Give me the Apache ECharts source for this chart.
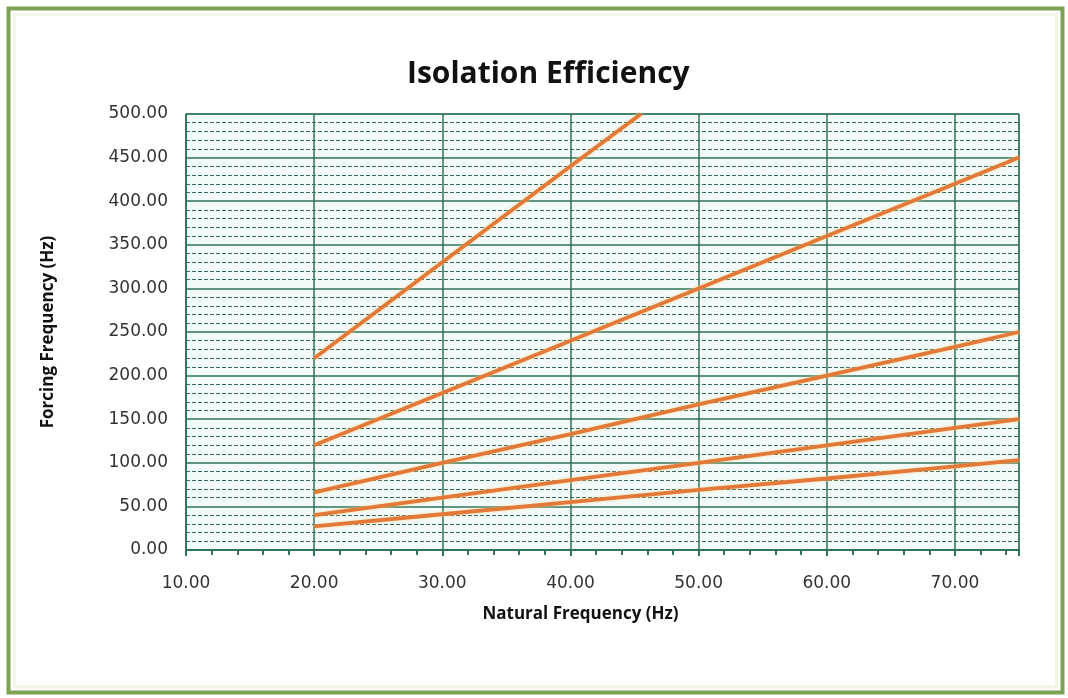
<!DOCTYPE html>
<html>
<head>
<meta charset="utf-8">
<title>Isolation Efficiency</title>
<script src="https://cdn.jsdelivr.net/npm/echarts@6/dist/echarts.min.js"></script>
<style>
  html, body { margin: 0; padding: 0; background: #fff; }
  #chart { width: 1068px; height: 698px; }
</style>
</head>
<body>
<div id="chart"></div>
<script>
// natural frequency (Hz) where the lines are sampled
const natFreq = [20, 30, 40, 50, 60, 70, 75];
// steepest line leaves the chart at the top (500 Hz)
const natFreqSteep = [20, 30, 40, 45.5];

// forcing frequency (Hz)
const lineA = [220, 330, 440, 500];
const lineB = [120, 180, 240, 300, 360, 420, 450];
const lineC = [66, 100, 133, 167, 200, 233, 250];
const lineD = [40, 60, 80, 100, 120, 140, 150];
const lineE = [27, 41, 55, 69, 82, 96, 103];

const pairs = (xs, ys) => xs.map((x, i) => [x, ys[i]]);

const chart = echarts.init(document.getElementById('chart'));

const gridGreen = '#2f7358';
const lineColor = '#e2793a';

const lineSeries = (data) => ({
    type: 'line',
    data: data,
    showSymbol: false,
    symbol: 'none',
    lineStyle: {
        color: lineColor,
        width: 3.8,
        shadowColor: 'rgba(255, 214, 120, 0.8)',
        shadowBlur: 3,
    },
    clip: true,
});

const option = {
    animation: false,
    backgroundColor: '#ffffff',
    title: {
        text: 'Isolation Efficiency',
        left: 402,
        top: 54,
        textStyle: {
            fontFamily: 'Open Sans',
            fontWeight: 'bold',
            fontSize: 30,
            color: '#111',
        },
    },
    graphic: [
        {
            type: 'rect',
            left: 6,
            top: 6,
            shape: { width: 1054, height: 684 },
            style: { fill: 'none', stroke: '#7ea255', lineWidth: 4 },
            silent: true,
        },
        {
            type: 'rect',
            left: 12,
            top: 12,
            shape: { width: 1042, height: 672 },
            style: { fill: 'none', stroke: '#f1f6e6', lineWidth: 3 },
            silent: true,
        },
    ],
    grid: {
        left: 186,
        right: 49,
        top: 114,
        bottom: 148,
        show: true,
        backgroundColor: '#f3fafa',
        borderColor: gridGreen,
        borderWidth: 1,
    },
    xAxis: {
        type: 'value',
        min: 10,
        max: 75,
        interval: 10,
        name: 'Natural Frequency (Hz)',
        nameLocation: 'middle',
        nameGap: 56,
        nameTextStyle: {
            fontFamily: 'Open Sans',
            fontWeight: 'bold',
            fontSize: 17,
            color: '#111',
            padding: [0, 44, 0, 0],
        },
        axisLine: { show: true, lineStyle: { color: gridGreen, width: 2 } },
        axisTick: { show: true, length: 6, lineStyle: { color: gridGreen, width: 2 } },
        minorTick: { show: true, splitNumber: 5, length: 5, lineStyle: { color: gridGreen, width: 2 } },
        axisLabel: {
            margin: 25,
            fontFamily: 'DejaVu Sans',
            fontSize: 17,
            color: '#333',
            formatter: (v) => (v % 10 === 0 ? v.toFixed(2) : ''),
        },
        splitLine: { show: true, lineStyle: { color: gridGreen, width: 1.5 } },
    },
    yAxis: {
        type: 'value',
        min: 0,
        max: 500,
        interval: 50,
        name: 'Forcing Frequency (Hz)',
        nameLocation: 'middle',
        nameGap: 129,
        nameRotate: 90,
        nameTextStyle: {
            fontFamily: 'Open Sans',
            fontWeight: 'bold',
            fontSize: 17,
            color: '#111',
        },
        axisLine: { show: true, lineStyle: { color: gridGreen, width: 1.5 } },
        axisTick: { show: false },
        axisLabel: {
            margin: 18,
            fontFamily: 'DejaVu Sans',
            fontSize: 17,
            color: '#333',
            formatter: (v) => v.toFixed(2),
        },
        splitLine: { show: true, lineStyle: { color: gridGreen, width: 1.5 } },
        minorSplitLine: {
            show: true,
            lineStyle: { color: '#3a6a5e', width: 1, type: [4, 2] },
        },
        minorTick: { show: false, splitNumber: 5 },
    },
    series: [
        lineSeries(pairs(natFreqSteep, lineA)),
        lineSeries(pairs(natFreq, lineB)),
        lineSeries(pairs(natFreq, lineC)),
        lineSeries(pairs(natFreq, lineD)),
        lineSeries(pairs(natFreq, lineE)),
    ],
};

chart.setOption(option);
</script>
</body>
</html>
